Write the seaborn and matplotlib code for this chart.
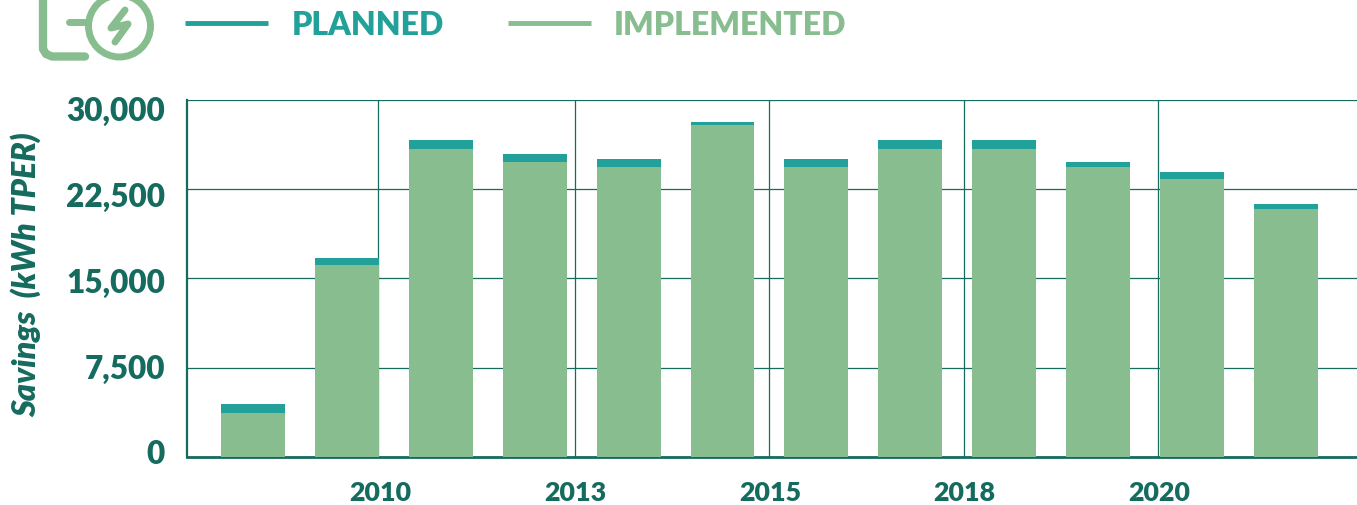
import matplotlib
matplotlib.use('Agg')
import matplotlib.pyplot as plt
from matplotlib.lines import Line2D
from matplotlib.patches import Circle
from matplotlib.transforms import ScaledTranslation
import seaborn as sns

# values
periods = ['P1', 'P2', 'P3', 'P4', 'P5', 'P6', 'P7', 'P8', 'P9', 'P10', 'P11', 'P12']
implemented = [3650, 16130, 25880, 24790, 24370, 27900, 24370, 25880, 25880, 24370, 23360, 20840]
planned_total = [4450, 16720, 26640, 25460, 25040, 28150, 25040, 26640, 26640, 24790, 23950, 21260]
year_labels = ['2010', '2013', '2015', '2018', '2020']
y_ticks = [0, 7500, 15000, 22500, 30000]

TEAL = '#22a09a'
GREEN = '#87bd8f'
DARK = '#156b5e'
WEIGHT = 'heavy'

sns.set_theme(style='white')
plt.rcParams['font.family'] = ['Lato', 'DejaVu Sans']

fig = plt.figure(figsize=(13.57, 5.06), dpi=100)
ax = fig.add_axes([187 / 1357, 1 - 457.8 / 506, (1357 - 187) / 1357, 357 / 506])

# planned sits behind, implemented on top
sns.barplot(x=periods, y=planned_total, color=TEAL, width=0.68, saturation=1, ax=ax,
            zorder=3, edgecolor='none', linewidth=0)
sns.barplot(x=periods, y=implemented, color=GREEN, width=0.68, saturation=1, ax=ax,
            zorder=4, edgecolor='none', linewidth=0)

ax.set_xlim(-0.703, 11.757)
ax.set_ylim(0, 30000)
ax.set_yticks(y_ticks)
ax.set_yticklabels([f'{v:,}' for v in y_ticks], fontsize=22.7, fontweight=WEIGHT, color=DARK)
ax.set_xticks([1.331, 3.429, 5.495, 7.572, 9.638])
ax.set_xticklabels(year_labels, fontsize=19.3, fontweight=WEIGHT, color=DARK)
ax.tick_params(axis='both', length=0)
ax.tick_params(axis='x', pad=16.5)
ax.tick_params(axis='y', pad=16)
ax.grid(True, color=DARK, linewidth=0.9, zorder=0)
ax.set_axisbelow(True)

# the y labels in the reference are squeezed towards the middle of the axis
for lab, dy in zip(ax.get_yticklabels(), [6, 2, -2, -5, -8]):
    lab.set_transform(lab.get_transform() + ScaledTranslation(0, dy / 100, fig.dpi_scale_trans))
for lab, dx in zip(ax.get_xticklabels(), [2, 0, 1, 0, 1.5]):
    lab.set_transform(lab.get_transform() + ScaledTranslation(dx / 100, 0, fig.dpi_scale_trans))

sns.despine(ax=ax, right=True, top=True)
ax.spines['left'].set_color(DARK)
ax.spines['left'].set_linewidth(1.6)
ax.spines['bottom'].set_color(DARK)
ax.spines['bottom'].set_linewidth(2)

fig.text(25.5 / 1357, 1 - 275 / 506, 'Savings  (kWh TPER)', rotation=90, ha='center', va='center',
         fontsize=23.2, fontweight=WEIGHT, fontstyle='italic', color=DARK)

# legend
handles = [Line2D([], [], color=TEAL, linewidth=3.5, solid_capstyle='butt'),
           Line2D([], [], color=GREEN, linewidth=3.5, solid_capstyle='butt')]
leg = fig.legend(handles, ['PLANNED', 'IMPLEMENTED'], ncols=2, frameon=False,
                 loc='center left', bbox_to_anchor=(156.5 / 1357, 1 - 25.7 / 506),
                 prop={'family': 'Lato', 'weight': WEIGHT, 'size': 23},
                 handlelength=2.6, handletextpad=0.72, columnspacing=2.0)
leg.get_texts()[0].set_color(TEAL)
leg.get_texts()[1].set_color(GREEN)

# icon, drawn in pixel space
icon = fig.add_axes([0, 0, 1, 1], facecolor='none')
icon.set_xlim(0, 1357)
icon.set_ylim(506, 0)
icon.axis('off')
icon.add_patch(Circle((119.5, 27), 31, fill=False, edgecolor=GREEN, linewidth=5))
icon.plot([43, 43, 46, 52, 85], [-5, 50, 55, 57.5, 57.5], color=GREEN, linewidth=6, solid_capstyle='round')
icon.plot([69, 88], [23, 23], color=GREEN, linewidth=5, solid_capstyle='round')
icon.plot([125, 111, 128, 115], [11, 29, 25, 43], color=GREEN, linewidth=5,
          solid_capstyle='round', solid_joinstyle='round')

fig.savefig('out.png', dpi=100)
